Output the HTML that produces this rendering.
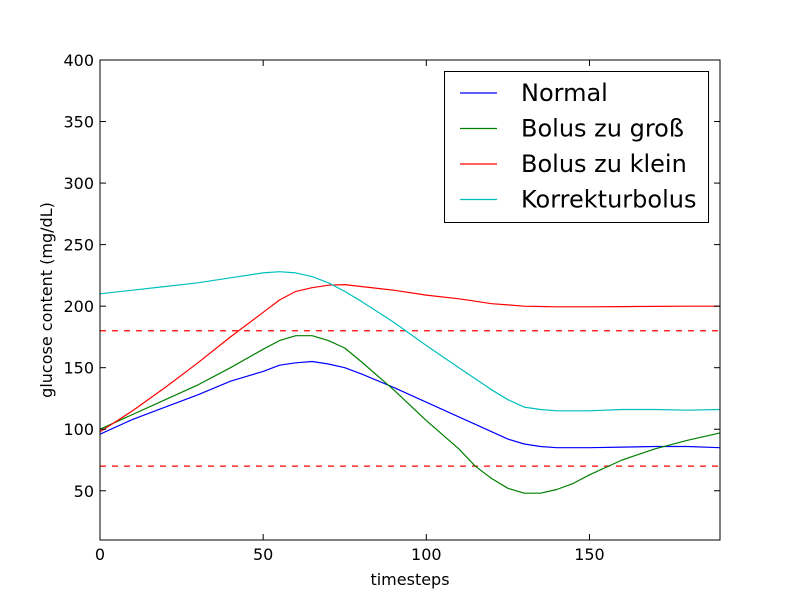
<!DOCTYPE html>
<html><head><meta charset="utf-8"><style>
body{margin:0;background:#fff}
svg{display:block;font-family:"DejaVu Sans","Liberation Sans",sans-serif}
</style></head><body>
<svg id="chart" width="800" height="600" viewBox="0 0 800 600" xmlns="http://www.w3.org/2000/svg">
<rect width="800" height="600" fill="#fff"/>
<g id="plot"></g>
</svg>
<script>
const xs = [0,10,20,30,40,50,55,60,65,70,75,80,90,100,110,115,120,125,130,135,140,145,150,160,170,180,190];
const normal = [96,108,118,128,139,147,152,154,155,153,150,145,134,122,110,104,98,92,88,86,85,85,85,85.5,86,86,85];
const bolusGross = [100,112,124,136,150,165,172,176,176,172,166,155,132,107,84,70,60,52,48,48,51,56,63,75,84,91,97];
const bolusKlein = [98,115,134,154,175,195,205,212,215,217,217.5,216,213,209,206,204,202,201,200,199.7,199.5,199.5,199.5,199.6,199.8,200,200];
const korrektur = [210,213,216,219,223,227,228,227,224,219,212,204,187,168,150,141,132,124,118,116,115,115,115,116,116,115.5,116];
const seriesNames = ["Normal","Bolus zu groß","Bolus zu klein","Korrekturbolus"];
const seriesColors = ["#0000ff","#008000","#ff0000","#00bfbf"];
const xTicks = [0,50,100,150];
const yTicks = [50,100,150,200,250,300,350,400];
const thresholds = [180,70];

const L=100,R=720,T=60,B=540,xmin=0,xmax=190,ymin=10,ymax=400;
const sx=v=>L+(v-xmin)/(xmax-xmin)*(R-L);
const sy=v=>B-(v-ymin)/(ymax-ymin)*(B-T);
const NS="http://www.w3.org/2000/svg";
const g=document.getElementById('plot');
function mk(t,a,p){const e=document.createElementNS(NS,t);for(const k in a)e.setAttribute(k,a[k]);(p||g).appendChild(e);return e;}

thresholds.forEach((v,i)=>{
  const l=mk('line',{x1:L,x2:R,y1:sy(v),y2:sy(v),stroke:'#ff0000','stroke-width':1.2,'stroke-dasharray':'6,6'});
  
  
});
[normal,bolusGross,bolusKlein,korrektur].forEach((arr,i)=>{
  const d=arr.map((v,j)=>(j?'L':'M')+sx(xs[j]).toFixed(1)+','+sy(v).toFixed(1)).join(' ');
  const p=mk('path',{d:d,fill:'none',stroke:seriesColors[i],'stroke-width':1.2,'stroke-linejoin':'round'});
  
  
});
const frame=mk('rect',{x:L,y:T,width:R-L,height:B-T,fill:'none',stroke:'#000','stroke-width':1});


xTicks.forEach(v=>{
  const x=sx(v);
  mk('line',{x1:x,x2:x,y1:B,y2:B-6,stroke:'#000'});
  mk('line',{x1:x,x2:x,y1:T,y2:T+6,stroke:'#000'});
  const t=mk('text',{x:x,y:B+20,'text-anchor':'middle','font-size':16});
  t.textContent=v;
  
  
});
yTicks.forEach(v=>{
  const y=sy(v);
  mk('line',{x1:L,x2:L+6,y1:y,y2:y,stroke:'#000'});
  mk('line',{x1:R,x2:R-6,y1:y,y2:y,stroke:'#000'});
  const t=mk('text',{x:L-6,y:y+6,'text-anchor':'end','font-size':16});
  t.textContent=v;
  
  
});
const xt=mk('text',{x:(L+R)/2,y:585,'text-anchor':'middle','font-size':16});
xt.textContent='timesteps';


const yt=mk('text',{x:52,y:(T+B)/2,'text-anchor':'middle','font-size':16,transform:'rotate(-90 52 '+(T+B)/2+')'});
yt.textContent='glucose content (mg/dL)';


const lg=mk('g',{});


mk('rect',{x:444.5,y:71.5,width:264,height:151,fill:'#fff',stroke:'#000'},lg);
seriesNames.forEach((n,i)=>{
  const y=93+i*35.5;
  mk('line',{x1:460,x2:497,y1:y,y2:y,stroke:seriesColors[i],'stroke-width':1.2},lg);
  const t=mk('text',{x:521,y:y+8,'font-size':24},lg);
  t.textContent=n;
  
  
});
</script>
</body></html>
